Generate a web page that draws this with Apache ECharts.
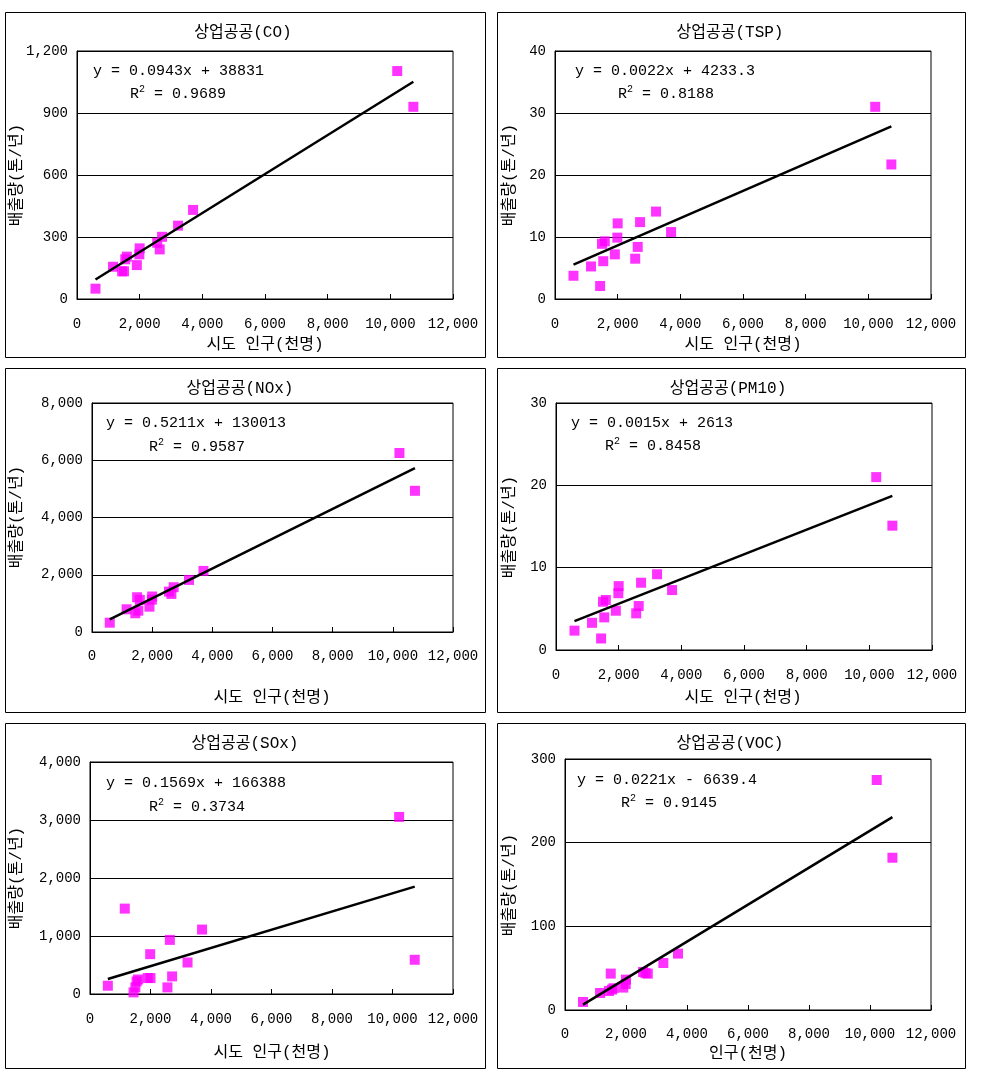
<!DOCTYPE html>
<html>
<head>
<meta charset="utf-8">
<script src="https://cdn.jsdelivr.net/npm/echarts@6/dist/echarts.min.js"></script>
<style>
html,body{margin:0;padding:0;background:#fff;}
#c{width:986px;height:1081px;}
</style>
</head>
<body>
<div id="c"></div>
<script>
// population of 16 시도 (thousand persons)
const pop = [590, 1150, 1440, 1500, 1540, 1590, 1910, 1990, 2000, 2560, 2640, 2715, 3225, 3705, 10220, 10735];
// emissions (ton/year) per pollutant, same order as pop
const coVals   = [50, 156, 134, 134, 192, 205, 164, 216, 245, 272, 240, 301, 355, 431, 1103, 930];
const tspVals  = [3.75, 5.25, 2.1, 8.9, 6.1, 9.3, 7.2, 9.9, 12.2, 6.5, 8.4, 12.4, 14.1, 10.8, 31.0, 21.7];
const noxVals  = [325, 794, 654, 1214, 745, 1120, 885, 1130, 1240, 1411, 1330, 1564, 1819, 2134, 6253, 4933];
const pm10Vals = [2.35, 3.3, 1.4, 5.86, 3.96, 6.07, 4.77, 6.9, 7.76, 4.45, 5.34, 8.17, 9.2, 7.28, 21.0, 15.1];
const soxVals  = [143, 1472, 28, 114, 217, 250, 275, 687, 275, 114, 933, 303, 543, 1111, 3053, 590];
const vocVals  = [9.6, 20.3, 22.7, 43.5, 24.4, 26, 26.8, 31, 36.3, 45.4, 44, 43.5, 56.2, 67.4, 274.9, 182];

const titles = ['상업공공(CO)', '상업공공(TSP)', '상업공공(NOx)', '상업공공(PM10)', '상업공공(SOx)', '상업공공(VOC)'];
const eqTexts = ['y = 0.0943x + 38831', 'y = 0.0022x + 4233.3', 'y = 0.5211x + 130013', 'y = 0.0015x + 2613', 'y = 0.1569x + 166388', 'y = 0.0221x - 6639.4'];
const r2Texts = ['0.9689', '0.8188', '0.9587', '0.8458', '0.3734', '0.9145'];
const slopes = [0.0943, 0.0022, 0.5211, 0.0015, 0.1569, 0.0221];
const intercepts = [38.831, 4.2333, 130.013, 2.613, 166.388, -6.6394];
const xTitles = ['시도 인구(천명)', '시도 인구(천명)', '시도 인구(천명)', '시도 인구(천명)', '시도 인구(천명)', '인구(천명)'];
const yTitle = '배출량(톤/년)';
const yMax = [1200, 40, 8000, 30, 4000, 300];
const yStep = [300, 10, 2000, 10, 1000, 100];
const xMax = 12000, xStep = 2000;

const allVals = [coVals, tspVals, noxVals, pm10Vals, soxVals, vocVals];

// layout (styling only)
const grids = [
  {left: 77, top: 51, width: 376, height: 248},
  {left: 555, top: 51, width: 376, height: 248},
  {left: 92, top: 403, width: 361, height: 229},
  {left: 556, top: 403, width: 376, height: 247},
  {left: 90, top: 762, width: 363, height: 232},
  {left: 565, top: 759, width: 366, height: 251}
];
const boxes = [
  [5, 12, 480, 345], [497, 12, 468, 345],
  [5, 368, 480, 344], [497, 368, 468, 344],
  [5, 723, 480, 345], [497, 723, 468, 345]
];
const titlePos = [[243, 33], [730, 33], [240, 389], [728, 389], [245, 744], [730, 744]];
const eqPos = [[93, 71], [575, 71], [106, 423], [571, 423], [106, 783], [577, 780]];
const r2Pos = [[130, 94], [618, 94], [149, 447], [605, 446], [149, 807], [621, 803]];
const xTitlePos = [[265, 345], [743, 345], [272, 698], [743, 698], [272, 1053], [748, 1054]];
const yTitlePos = [[17, 175], [510, 175], [17, 517], [510, 527], [17, 878], [510, 885]];
const xLabelMargin = [18, 18, 17, 18, 18, 17];

const MONO = "'Liberation Mono', 'Noto Sans CJK KR', monospace";
const fmt = v => v.toLocaleString('en-US');

const option = {
  animation: false,
  backgroundColor: '#fff',
  grid: grids.map(g => Object.assign({show: true, borderColor: '#000', borderWidth: 1, backgroundColor: 'transparent'}, g)),
  xAxis: grids.map((g, i) => ({
    type: 'value', gridIndex: i, min: 0, max: xMax, interval: xStep,
    axisLine: {show: true, lineStyle: {color: '#000', width: 1}},
    axisTick: {show: true, inside: true, length: 5, lineStyle: {color: '#000'}},
    splitLine: {show: false},
    axisLabel: {color: '#000', fontFamily: MONO, fontSize: 14, margin: xLabelMargin[i], formatter: fmt}
  })),
  yAxis: grids.map((g, i) => ({
    type: 'value', gridIndex: i, min: 0, max: yMax[i], interval: yStep[i],
    axisLine: {show: true, lineStyle: {color: '#000', width: 1}},
    axisTick: {show: false},
    splitLine: {show: true, lineStyle: {color: '#000', width: 1}},
    axisLabel: {color: '#000', fontFamily: MONO, fontSize: 14, margin: 9, formatter: fmt}
  })),
  series: [],
  graphic: []
};

allVals.forEach((vals, i) => {
  option.series.push({
    type: 'scatter', xAxisIndex: i, yAxisIndex: i,
    symbol: 'rect', symbolSize: 10,
    itemStyle: {color: '#FF00FF'},
    data: pop.map((p, k) => [p, vals[k]]),
    z: 3
  });
  const x0 = Math.min(...pop), x1 = Math.max(...pop);
  option.series.push({
    type: 'line', xAxisIndex: i, yAxisIndex: i,
    symbol: 'none', silent: true,
    lineStyle: {color: '#000', width: 2.5},
    data: [[x0, slopes[i] * x0 + intercepts[i]], [x1, slopes[i] * x1 + intercepts[i]]],
    z: 4
  });
  const b = boxes[i];
  option.graphic.push({
    type: 'rect', shape: {x: b[0] + 0.5, y: b[1] + 0.5, width: b[2], height: b[3]},
    style: {fill: 'none', stroke: '#000', lineWidth: 1}, z: 1
  });
  option.graphic.push({
    type: 'text', x: titlePos[i][0], y: titlePos[i][1],
    style: {text: titles[i], font: "16px " + MONO, fill: '#000', textAlign: 'center', textVerticalAlign: 'middle', align: 'center', verticalAlign: 'middle'}
  });
  option.graphic.push({
    type: 'text', x: eqPos[i][0], y: eqPos[i][1],
    style: {text: eqTexts[i], font: "15px " + MONO, fill: '#000', textAlign: 'left', textVerticalAlign: 'middle', align: 'left', verticalAlign: 'middle'}
  });
  option.graphic.push({
    type: 'text', x: r2Pos[i][0], y: r2Pos[i][1],
    style: {
      text: 'R{s|2} = ' + r2Texts[i], font: "15px " + MONO, fill: '#000',
      textAlign: 'left', textVerticalAlign: 'middle', align: 'left', verticalAlign: 'middle',
      rich: {s: {fontSize: 10, fontFamily: MONO, fill: '#000', padding: [0, 0, 10, 0]}}
    }
  });
  option.graphic.push({
    type: 'text', x: xTitlePos[i][0], y: xTitlePos[i][1],
    style: {text: xTitles[i], font: "16px " + MONO, fill: '#000', textAlign: 'center', textVerticalAlign: 'middle', align: 'center', verticalAlign: 'middle'}
  });
  option.graphic.push({
    type: 'text', x: yTitlePos[i][0], y: yTitlePos[i][1], rotation: Math.PI / 2,
    style: {text: yTitle, font: "16px " + MONO, fill: '#000', textAlign: 'center', textVerticalAlign: 'middle', align: 'center', verticalAlign: 'middle'}
  });
});

const chart = echarts.init(document.getElementById('c'), null, {renderer: 'canvas'});
chart.setOption(option);
</script>
</body>
</html>
